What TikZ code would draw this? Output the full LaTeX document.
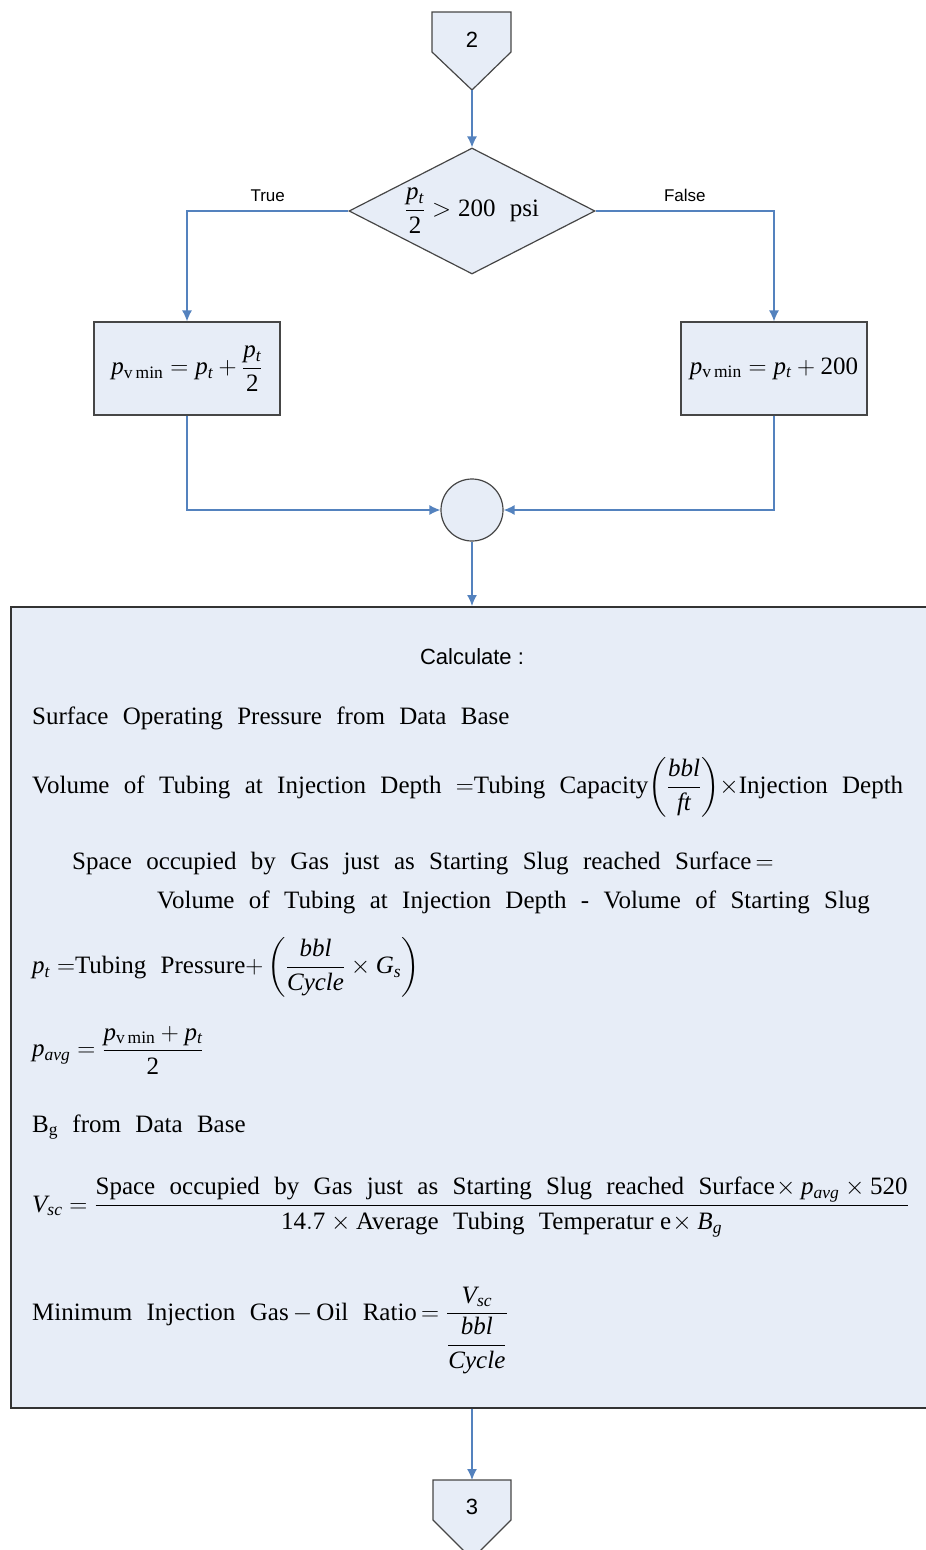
\documentclass[tikz,border=0pt]{standalone}
\usepackage{fix-cm}
\usepackage{amsmath}
\usepackage{fontspec}
\setmainfont{Liberation Serif}[WordSpace=2.3]
\setsansfont{Liberation Sans}
\usetikzlibrary{arrows.meta,shapes.geometric}
\definecolor{shapefill}{RGB}{231,237,247}
\definecolor{linkblue}{RGB}{84,130,190}
\definecolor{edgegray}{RGB}{70,70,70}
\newcommand{\mi}[1]{\mathit{#1}}
\newcommand{\ptub}{\mi{p}_{\mi{t}}}
\newcommand{\pvmin}{\mi{p}_{\mathrm{v\,min}}}
\newcommand{\pavg}{\mi{p}_{\mi{avg}}}
\newcommand{\Vsc}{\mi{V}_{\mi{sc}}}

\begin{document}
\begin{tikzpicture}[x=1pt, y=-1pt, >={Latex[length=11pt,width=10pt]},
    flowline/.style={draw=linkblue, line width=1.3pt},
    shapebox/.style={draw=edgegray, fill=shapefill, line width=1.2pt},
    procbox/.style={shapebox, minimum width=186pt, minimum height=93pt, inner sep=0pt,
      font=\fontsize{25}{29}\selectfont},
    decision/.style={shapebox, diamond, aspect=1.95, minimum width=246pt, minimum height=126pt,
      inner sep=0pt, font=\fontsize{25}{29}\selectfont},
    junction/.style={shapebox, circle, minimum size=62pt, inner sep=0pt},
    branchlabel/.style={font=\sffamily\fontsize{17}{20}\selectfont},
    pagenum/.style={font=\sffamily\fontsize{22}{26}\selectfont},
    calcline/.style={anchor=west, inner sep=0pt, font=\fontsize{25}{29}\selectfont}]
  \useasboundingbox (0,0) rectangle (926,1550);

  % off-page connector 2
  \draw[shapebox] (432,12) -- (511,12) -- (511,52) -- (472,90) -- (432,52) -- cycle;
  \node[pagenum] (page2) at (472,40) {2};
  \coordinate (page2tip) at (472,90);

  % test and the two branches
  \node[decision] (test) at (472,211) {$\dfrac{\ptub}{\mathrm{2}}>\mathrm{200}\ \text{psi}$};
  \node[procbox] (lowbox) at (187,368.5) {$\pvmin=\ptub+\dfrac{\ptub}{\mathrm{2}}$};
  \node[procbox] (highbox) at (774,368.5) {$\pvmin=\ptub+\mathrm{200}$};
  \node[junction] (merge) at (472,510) {};

  \draw[flowline,->] (page2tip) -- (test.north);
  \draw[flowline,->] (test.west) -| node[branchlabel, pos=0.25, above=5pt] {True} (lowbox.north);
  \draw[flowline,->] (test.east) -| node[branchlabel, pos=0.25, above=5pt] {False} (highbox.north);
  \draw[flowline,->] (lowbox.south) |- (merge.west);
  \draw[flowline,->] (highbox.south) |- (merge.east);

  % calculation block
  \node[shapebox, draw=black!80, line width=1.5pt, minimum width=932pt, minimum height=801pt,
    anchor=north west, inner sep=0pt] (calc) at (10,606) {};
  \draw[flowline,->] (merge.south) -- (merge.south |- calc.north);

  \node[pagenum] (calchead) at (472,657) {Calculate :};
  \node[calcline] (opres) at (32,718) {Surface Operating Pressure from Data Base};
  \node[calcline] (voltub) at (32,787)
    {Volume of Tubing at Injection Depth $=$Tubing Capacity$\left(\dfrac{\mi{bbl}}{\mi{ft}}\right)\!\times$Injection Depth};
  \node[calcline] (gasspace) at (72,863) {Space occupied by Gas just as Starting Slug reached Surface$\,=$};
  \node[calcline] (gasspace2) at (157,902) {Volume of Tubing at Injection Depth - Volume of Starting Slug};
  \node[calcline] (ptline) at (32,967)
    {$\ptub=$Tubing Pressure$+\left(\dfrac{\mi{bbl}}{\mi{Cycle}}\times\mi{G}_{\mi{s}}\right)$};
  \node[calcline] (pavgline) at (32,1050) {$\pavg=\dfrac{\pvmin+\ptub}{\mathrm{2}}$};
  \node[calcline] (bgline) at (32,1127) {B$_{\mathrm{g}}$ from Data Base};
  \node[calcline] (vscline) at (32,1207)
    {$\Vsc=\dfrac{\text{Space occupied by Gas just as Starting Slug reached Surface}\!\times\pavg\times\mathrm{520}}
      {\mathrm{14.7}\times\text{Average Tubing Temperatur\hspace{0.25em}e}\!\times\mi{B}_{\mi{g}}}$};
  \node[calcline, anchor=base west] (ratioline) at (32,1320)
    {Minimum Injection Gas$\,-\,$Oil Ratio$\,=\dfrac{\Vsc}{\dfrac{\mi{bbl}}{\mi{Cycle}}}$};

  % off-page connector 3
  \draw[shapebox] (433,1480) -- (511,1480) -- (511,1520) -- (472,1559) -- (433,1520) -- cycle;
  \node[pagenum] (page3) at (472,1507) {3};
  \coordinate (page3top) at (472,1480);
  \draw[flowline,->] (merge.south |- calc.south) -- (page3top);
\end{tikzpicture}
\end{document}
